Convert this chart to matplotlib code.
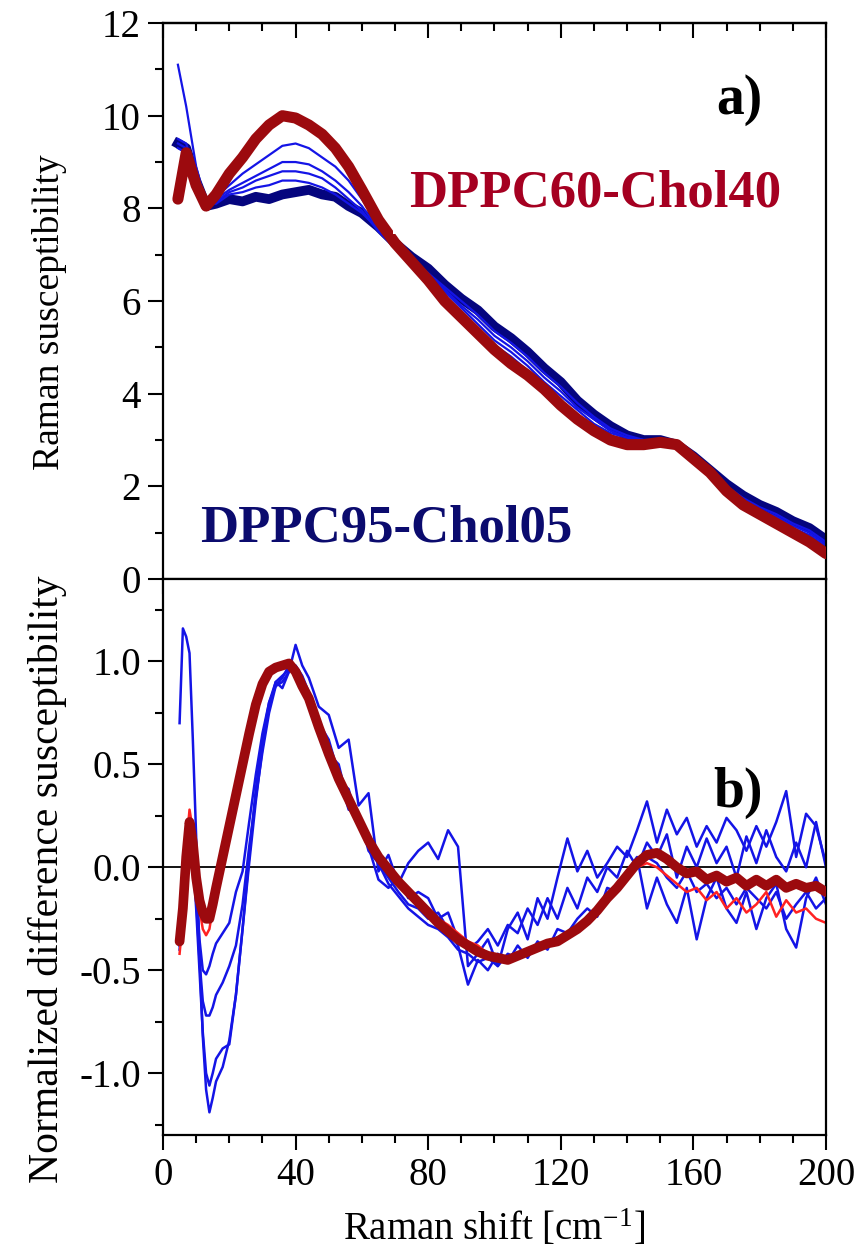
import matplotlib.pyplot as plt
from matplotlib.ticker import MultipleLocator

plt.rcParams['font.family'] = 'Liberation Serif'
plt.rcParams['mathtext.fontset'] = 'stix'
plt.rcParams['axes.unicode_minus'] = False

# ---- panel a: Raman susceptibility ----
shift_top = [4.5, 7, 10, 13, 16, 20, 24, 28, 32, 36, 40, 44, 48, 52, 56, 60,
             65, 70, 75, 80, 85, 90, 95, 100, 105, 110, 115, 120, 125, 130,
             135, 140, 145, 150, 155, 160, 165, 170, 175, 180, 185, 190, 195, 200]

chol05 = [9.4, 9.3, 8.6, 8.05, 8.1, 8.2, 8.15, 8.25, 8.2, 8.3, 8.35, 8.4, 8.3, 8.25, 8.05, 7.9,
          7.6, 7.25, 6.95, 6.7, 6.35, 6.05, 5.8, 5.45, 5.2, 4.9, 4.55, 4.25, 3.85, 3.55,
          3.3, 3.1, 3.0, 3.0, 2.9, 2.65, 2.35, 2.05, 1.8, 1.6, 1.45, 1.25, 1.1, 0.85]
mid_a = [11.1, 10.2, 8.9, 8.1, 8.1, 8.3, 8.35, 8.45, 8.5, 8.6, 8.6, 8.55, 8.45, 8.3, 8.1, 7.9,
         7.55, 7.2, 6.9, 6.6, 6.3, 6.0, 5.7, 5.35, 5.1, 4.8, 4.45, 4.15, 3.8, 3.5,
         3.25, 3.1, 3.0, 3.0, 2.9, 2.6, 2.3, 2.0, 1.75, 1.55, 1.4, 1.2, 1.05, 0.8]
mid_b = [9.5, 9.4, 8.6, 8.1, 8.15, 8.35, 8.45, 8.6, 8.7, 8.8, 8.8, 8.75, 8.65, 8.45, 8.2, 7.95,
         7.5, 7.15, 6.85, 6.55, 6.25, 5.9, 5.6, 5.25, 5.0, 4.7, 4.35, 4.05, 3.7, 3.45,
         3.2, 3.05, 3.0, 3.0, 2.9, 2.6, 2.3, 1.95, 1.7, 1.5, 1.35, 1.15, 1.0, 0.75]
mid_c = [9.4, 9.3, 8.6, 8.05, 8.2, 8.4, 8.55, 8.7, 8.85, 9.0, 9.0, 8.95, 8.8, 8.6, 8.35, 8.05,
         7.55, 7.15, 6.8, 6.5, 6.2, 5.85, 5.5, 5.15, 4.9, 4.6, 4.25, 3.95, 3.65, 3.35,
         3.15, 3.05, 3.0, 3.0, 2.9, 2.6, 2.25, 1.95, 1.7, 1.5, 1.3, 1.1, 0.95, 0.7]
mid_d = [9.3, 9.2, 8.5, 8.05, 8.25, 8.5, 8.75, 8.95, 9.15, 9.35, 9.4, 9.3, 9.1, 8.9, 8.6, 8.2,
         7.65, 7.15, 6.75, 6.45, 6.1, 5.75, 5.4, 5.05, 4.8, 4.5, 4.2, 3.85, 3.55, 3.3,
         3.1, 3.0, 2.95, 3.0, 2.9, 2.6, 2.25, 1.9, 1.65, 1.45, 1.25, 1.05, 0.9, 0.65]
chol40 = [8.2, 9.2, 8.5, 8.05, 8.3, 8.75, 9.1, 9.5, 9.8, 10.0, 9.95, 9.8, 9.6, 9.3, 8.9, 8.4,
          7.75, 7.25, 6.85, 6.45, 6.0, 5.65, 5.3, 4.95, 4.65, 4.4, 4.1, 3.75, 3.45, 3.2,
          3.0, 2.9, 2.9, 2.95, 2.9, 2.6, 2.3, 1.9, 1.6, 1.4, 1.2, 1.0, 0.8, 0.55]

# ---- panel b: normalized difference susceptibility ----
shift_bot = [5, 6, 7, 8, 9, 10, 11, 12, 13, 14, 15, 16,
             18, 20, 22, 24, 26, 28, 30, 32, 34, 36, 38, 40, 42,
             44, 47, 50, 53, 56, 59, 62, 65, 68, 71, 74, 77, 80, 83, 86, 89,
             92, 95, 98, 101, 104, 107, 110, 113, 116, 119, 122, 125, 128, 131,
             134, 137, 140, 143, 146, 149, 152, 155, 158, 161, 164, 167, 170,
             173, 176, 179, 182, 185, 188, 191, 194, 197, 200]

diff_a = [0.70, 1.16, 1.12, 1.04, 0.62, 0.15, -0.42, -0.82, -1.08, -1.19, -1.12, -1.04,
          -0.97, -0.84, -0.62, -0.30, 0.05, 0.38, 0.62, 0.80, 0.90, 0.87, 0.95, 1.08, 0.98,
          0.92, 0.78, 0.74, 0.58, 0.62, 0.30, 0.36, -0.02, 0.06, -0.08, 0.02, 0.08, 0.12, 0.04,
          0.18, 0.10, -0.48, -0.42, -0.35, -0.48, -0.30, -0.22, -0.35, -0.15, -0.25, -0.05,
          0.14, -0.02, 0.08, -0.05, 0.02, 0.10, 0.05, 0.18, 0.32, 0.12, 0.28, 0.16, 0.24,
          0.10, 0.20, 0.12, 0.24, 0.18, 0.08, 0.20, 0.10, 0.22, 0.37, 0.05, 0.26, 0.20, 0.02]
diff_b = [-0.38, -0.20, 0.12, 0.20, 0.05, -0.20, -0.50, -0.80, -1.00, -1.06, -1.00, -0.93,
          -0.88, -0.86, -0.62, -0.30, 0.02, 0.32, 0.58, 0.78, 0.90, 0.93, 0.96, 0.98, 0.93,
          0.85, 0.70, 0.62, 0.45, 0.28, 0.26, 0.08, 0.02, -0.05, -0.12, -0.18, -0.20, -0.25,
          -0.22, -0.30, -0.38, -0.57, -0.45, -0.50, -0.42, -0.46, -0.38, -0.44, -0.36, -0.40,
          -0.30, -0.32, -0.25, -0.20, -0.24, -0.10, -0.12, -0.02, 0.05, -0.20, -0.05, -0.18,
          -0.27, -0.10, -0.35, -0.15, -0.05, -0.20, -0.27, -0.12, -0.30, -0.15, -0.08, -0.30,
          -0.39, -0.15, -0.05, -0.18]
diff_c = [-0.35, -0.15, 0.15, 0.22, 0.08, -0.15, -0.45, -0.65, -0.72, -0.72, -0.68, -0.62,
          -0.56, -0.48, -0.38, -0.18, 0.10, 0.34, 0.56, 0.75, 0.88, 0.92, 0.98, 0.96, 0.90,
          0.82, 0.66, 0.58, 0.42, 0.38, 0.20, 0.10, -0.06, -0.10, -0.05, -0.15, -0.12, -0.15,
          -0.25, -0.22, -0.35, -0.40, -0.36, -0.30, -0.38, -0.28, -0.32, -0.20, -0.28, -0.15,
          -0.25, -0.10, -0.20, -0.05, -0.12, 0.00, -0.05, 0.08, 0.00, 0.12, 0.05, 0.16,
          -0.05, 0.10, 0.00, 0.14, 0.02, 0.10, -0.05, 0.15, 0.02, 0.18, 0.05, -0.02,
          0.12, 0.00, 0.22, 0.00]
diff_d = [-0.40, -0.20, 0.10, 0.20, 0.10, -0.10, -0.35, -0.50, -0.52, -0.48, -0.42, -0.37,
          -0.32, -0.27, -0.12, -0.02, 0.22, 0.45, 0.65, 0.80, 0.88, 0.90, 0.95, 0.97, 0.92,
          0.84, 0.72, 0.55, 0.50, 0.30, 0.22, 0.12, 0.02, -0.08, -0.14, -0.20, -0.24, -0.28,
          -0.30, -0.34, -0.40, -0.42, -0.46, -0.44, -0.48, -0.42, -0.44, -0.40, -0.38, -0.36,
          -0.34, -0.33, -0.28, -0.26, -0.20, -0.15, -0.10, -0.05, 0.02, 0.05, 0.02, -0.05,
          -0.10, -0.02, -0.12, -0.08, -0.15, -0.10, -0.18, -0.10, -0.15, -0.20, -0.12, -0.25,
          -0.18, -0.12, -0.20, -0.15]
diff_red = [-0.42, -0.25, 0.10, 0.28, 0.18, -0.05, -0.20, -0.30, -0.33, -0.30, -0.20, -0.12,
            0.02, 0.18, 0.33, 0.48, 0.63, 0.77, 0.88, 0.94, 0.97, 0.98, 0.99, 0.96, 0.90,
            0.82, 0.68, 0.56, 0.45, 0.35, 0.25, 0.15, 0.06, -0.02, -0.06, -0.12, -0.16, -0.20,
            -0.25, -0.28, -0.32, -0.36, -0.38, -0.42, -0.43, -0.44, -0.42, -0.41, -0.38, -0.36,
            -0.35, -0.32, -0.30, -0.26, -0.22, -0.17, -0.12, -0.06, 0.00, 0.02, 0.00, -0.04,
            -0.08, -0.12, -0.10, -0.16, -0.12, -0.20, -0.15, -0.22, -0.18, -0.12, -0.24, -0.16,
            -0.22, -0.20, -0.25, -0.27]
diff_chol40 = [-0.36, -0.20, 0.05, 0.22, 0.12, -0.05, -0.16, -0.22, -0.25, -0.25, -0.18, -0.10,
               0.05, 0.20, 0.35, 0.50, 0.65, 0.79, 0.89, 0.95, 0.97, 0.98, 0.99, 0.95, 0.88,
               0.82, 0.68, 0.55, 0.43, 0.33, 0.23, 0.13, 0.05, -0.01, -0.07, -0.12, -0.17, -0.22,
               -0.27, -0.31, -0.35, -0.38, -0.41, -0.43, -0.44, -0.45, -0.43, -0.41, -0.39, -0.37,
               -0.36, -0.33, -0.30, -0.26, -0.21, -0.15, -0.10, -0.04, 0.02, 0.06, 0.07, 0.04,
               0.00, -0.03, -0.02, -0.06, -0.04, -0.07, -0.05, -0.09, -0.06, -0.09, -0.06, -0.10,
               -0.08, -0.10, -0.09, -0.12]

navy = '#05057e'
blue = '#1414e6'
darkred = '#9c0a0e'
red = '#ff2222'

fig = plt.figure(figsize=(8.57, 12.53), dpi=100)
ax1 = fig.add_axes([0.1902, 0.5379, 0.7736, 0.4437])
ax2 = fig.add_axes([0.1902, 0.0942, 0.7736, 0.4437], sharex=ax1)

ax1.plot(shift_top, chol05, color=navy, lw=7, solid_joinstyle='round', zorder=2)
for ys in [mid_a, mid_b, mid_c, mid_d]:
    ax1.plot(shift_top, ys, color=blue, lw=1.6, zorder=2.5)
ax1.plot(shift_top, chol40, color=darkred, lw=8, solid_joinstyle='round',
         solid_capstyle='round', zorder=3)

ax2.axhline(0, color='black', lw=1.3, zorder=1)
for ys in [diff_a, diff_b, diff_c, diff_d]:
    ax2.plot(shift_bot, ys, color=blue, lw=1.8, zorder=2)
ax2.plot(shift_bot, diff_red, color=red, lw=1.8, zorder=2.5)
ax2.plot(shift_bot, diff_chol40, color=darkred, lw=7, solid_joinstyle='round',
         solid_capstyle='round', zorder=3)

ax1.set_xlim(0, 200)
ax1.set_ylim(0, 12)
ax2.set_ylim(-1.3, 1.4)

for ax in [ax1, ax2]:
    for sp in ax.spines.values():
        sp.set_linewidth(1.6)
    ax.tick_params(which='major', direction='out', length=11, width=1.5, labelsize=28, pad=5)
    ax.tick_params(which='minor', direction='out', length=6, width=1.5)
    ax.tick_params(right=False, top=False)
    ax.xaxis.set_major_locator(MultipleLocator(40))
    ax.xaxis.set_minor_locator(MultipleLocator(10))

ax1.yaxis.set_major_locator(MultipleLocator(2))
ax1.yaxis.set_minor_locator(MultipleLocator(1))
ax2.yaxis.set_major_locator(MultipleLocator(0.5))
ax2.yaxis.set_minor_locator(MultipleLocator(0.25))
ax1.tick_params(labelbottom=False)

# inward ticks along the top of panel a
top = ax1.secondary_xaxis('top')
top.xaxis.set_major_locator(MultipleLocator(40))
top.xaxis.set_minor_locator(MultipleLocator(10))
top.tick_params(which='major', direction='in', length=11, width=1.5, labeltop=False)
top.tick_params(which='minor', direction='in', length=6, width=1.5)
top.spines['top'].set_linewidth(1.6)

ax1.set_ylabel('Raman susceptibility', fontsize=27)
ax2.set_ylabel('Normalized difference susceptibility', fontsize=30)
ax2.set_xlabel('Raman shift [cm$^{\\mathregular{-1}}$]', fontsize=28, labelpad=10)
ax1.yaxis.set_label_coords(-0.145, 0.48)
ax2.yaxis.set_label_coords(-0.145, 0.46)

ax1.text(74.2, 8.03, 'DPPC60-Chol40', color='#a50021', fontsize=38, fontweight='bold',
         ha='left', va='baseline', zorder=10,
         bbox=dict(facecolor='white', edgecolor='none', boxstyle='square,pad=0.3'))
ax1.text(11.2, 0.80, 'DPPC95-Chol05', color='#0b0b6e', fontsize=38, fontweight='bold',
         ha='left', va='baseline', zorder=10)
ax1.text(174, 10.34, 'a)', fontsize=40, fontweight='bold', ha='center', va='center')
ax2.text(173.5, 0.36, 'b)', fontsize=40, fontweight='bold', ha='center', va='center')

plt.savefig('out.png', dpi=100)
